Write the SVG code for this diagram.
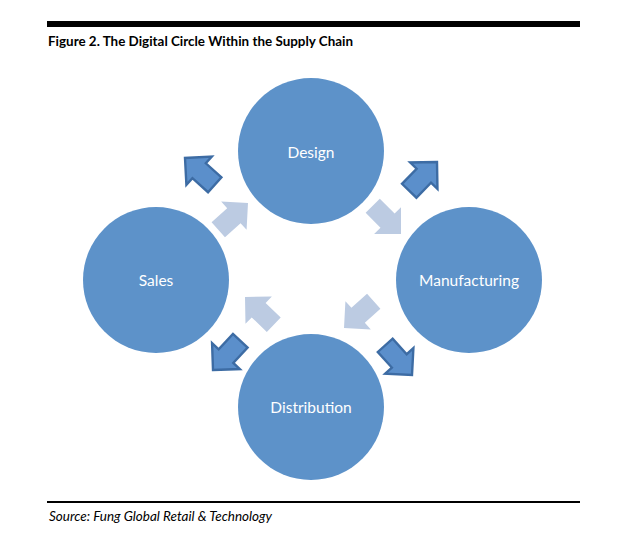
<svg xmlns="http://www.w3.org/2000/svg" width="632" height="535" viewBox="0 0 632 535">
<style>
.node{fill:#5d92c9}
.lbl{font-family:Lato,"Open Sans",sans-serif;font-size:15.5px;fill:#ffffff;text-anchor:middle}
.dark{fill:#5b8fcb;stroke:#3d6ca4;stroke-width:2.4;stroke-linejoin:miter}
.light{fill:#bccbe2}
.title{font-family:Lato,"Liberation Sans",sans-serif;font-weight:bold;font-size:13.5px;fill:#000}
.src{font-family:Lato,"Liberation Sans",sans-serif;font-style:italic;font-size:12.5px;fill:#000}
</style>
<defs>
<polygon id="arr" points="0,0 -19,-19 -19,-10 -40,-10 -40,10 -19,10 -19,19"/>
</defs>
<rect x="0" y="0" width="632" height="535" fill="#ffffff"/>
<rect x="47" y="21" width="533" height="6" fill="#000000"/>
<text class="title" x="48" y="46" textLength="305" lengthAdjust="spacingAndGlyphs">Figure 2. The Digital Circle Within the Supply Chain</text>
<g id="design"><circle class="node" cx="311" cy="151" r="73"/><text class="lbl" x="311" y="158">Design</text></g>
<g id="sales"><circle class="node" cx="156" cy="280" r="73"/><text class="lbl" x="156" y="286">Sales</text></g>
<g id="manufacturing"><circle class="node" cx="469" cy="280" r="73"/><text class="lbl" x="469" y="286">Manufacturing</text></g>
<g id="distribution"><circle class="node" cx="311" cy="407" r="73"/><text class="lbl" x="311" y="413">Distribution</text></g>
<g id="connectors">
<use href="#arr" class="light" transform="translate(248,203) rotate(-42)"/>
<use href="#arr" class="light" transform="translate(401,234) rotate(45)"/>
<use href="#arr" class="light" transform="translate(344,328) rotate(138)"/>
<use href="#arr" class="light" transform="translate(245,297) rotate(224)"/>
<use href="#arr" class="dark" transform="translate(185,158) rotate(222)"/>
<use href="#arr" class="dark" transform="translate(437,162) rotate(-46)"/>
<use href="#arr" class="dark" transform="translate(213,370) rotate(133)"/>
<use href="#arr" class="dark" transform="translate(412,375) rotate(48)"/>
</g>
<rect x="47" y="501" width="533" height="2" fill="#000000"/>
<text class="src" x="49" y="521" textLength="223" lengthAdjust="spacingAndGlyphs">Source: Fung Global Retail &amp; Technology</text>
</svg>
